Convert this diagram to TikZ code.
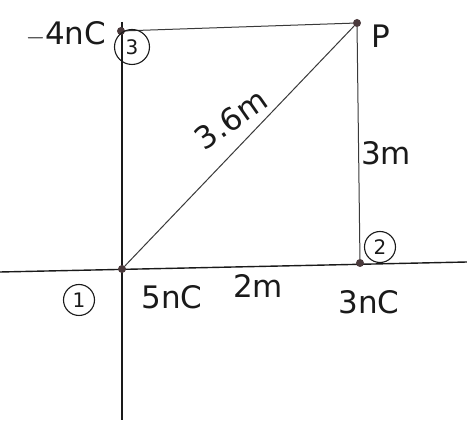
\documentclass[tikz,border=0pt]{standalone}
\usepackage{fontspec}
\setmainfont{DejaVu Sans}
\usepackage{xcolor}
\usepackage{tikz}
\usetikzlibrary{positioning,calc}
\definecolor{ink}   {HTML}{1A1A1A}
\definecolor{ink2}  {HTML}{3A3A3A}
\definecolor{dotc}  {HTML}{4A3A3C}
\tikzset{
  axis/.style   = {draw=ink, line width=1.4pt},
  side/.style   = {draw=ink2, line width=1pt},
  charge/.style = {circle, fill=dotc, inner sep=0pt, minimum size=8pt},
  lbl/.style    = {font=\fontsize{31}{33}\selectfont, text=ink, inner sep=1pt},
  tag/.style    = {circle, draw=ink, line width=1.1pt, inner sep=1pt,
                   minimum size=31pt, font=\fontsize{20}{22}\selectfont, text=ink},
}
\begin{document}
\begin{tikzpicture}[x=1pt, y=-1pt]
  \useasboundingbox[fill=white] (0,0) rectangle (467,430);

  % axes
  \coordinate (xl) at (0,272);
  \coordinate (xr) at (467,262);
  \coordinate (yt) at (122,22);
  \coordinate (yb) at (122,420);
  \draw[axis] (xl) -- (xr);
  \draw[axis] (yt) -- (yb);

  % charges and field point
  \node[charge] (q1) at (122,269) {};
  \node[charge] (q2) at (360,263) {};
  \node[charge] (q3) at (121,31)  {};
  \node[charge] (p)  at (357,23)  {};

  \draw[side] (q3) -- (p);
  \draw[side] (p) -- (q2);
  \draw[side] (q1) -- (p);

  % labels
  \node[tag, minimum size=35pt] (t3) at (132,47) {3};
  \node[tag] (t2) at (380,247) {2};
  \node[tag] (t1) at (79,300)  {1};
  \node[lbl] (lq3) at (66,34)  {$-$4nC};
  \node[lbl] (lp)  at (381,36) {P};
  \node[lbl, rotate=35] (ld) at (231,119) {3.6m};
  \node[lbl] (lh)  at (386,153) {3m};
  \node[lbl] (lq1) at (172,297) {5nC};
  \node[lbl] (lw)  at (258,286) {2m};
  \node[lbl] (lq2) at (369,302) {3nC};
\end{tikzpicture}
\end{document}
